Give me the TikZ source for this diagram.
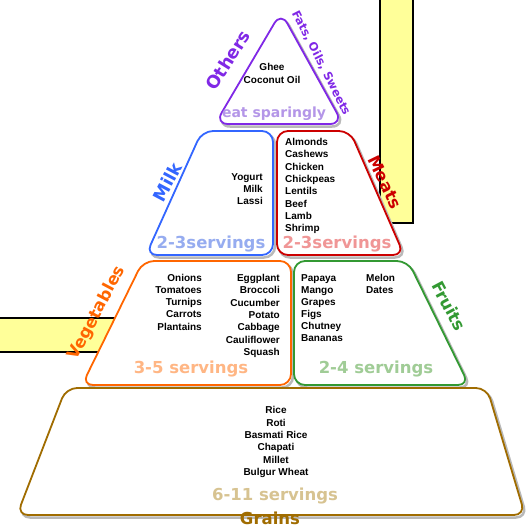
\documentclass[tikz,border=0pt]{standalone}
\usepackage{fontspec}
\newfontfamily\itemfont{Liberation Sans}
\newfontfamily\headfont{DejaVu Sans}
\definecolor{barc}{RGB}{255,255,153}
\definecolor{othersc}{RGB}{128,40,230}
\definecolor{othersl}{RGB}{180,150,232}
\definecolor{milkc}{RGB}{51,102,255}
\definecolor{milkl}{RGB}{150,172,240}
\definecolor{meatc}{RGB}{204,0,0}
\definecolor{meatl}{RGB}{240,150,150}
\definecolor{vegc}{RGB}{255,102,0}
\definecolor{vegl}{RGB}{255,182,132}
\definecolor{fruitc}{RGB}{51,153,51}
\definecolor{fruitl}{RGB}{160,204,150}
\definecolor{grainc}{RGB}{160,108,0}
\definecolor{grainl}{RGB}{215,195,145}

\begin{document}
\begin{tikzpicture}
    [x = 1pt, y = -1pt,
     box/.style = {line width = 1.8pt, rounded corners = 11pt, fill = white,
                   preaction = {draw = gray!55, line width = 2.5pt,
                                transform canvas = {shift = {(2pt,-2.5pt)}}}},
     bar/.style = {draw = black, line width = 1.8pt, fill = barc},
     item/.style = {font = \itemfont\bfseries\fontsize{10}{12}\selectfont, inner sep = 0pt},
     serv/.style = {font = \headfont\bfseries\fontsize{#1}{#1}\selectfont, inner sep = 0pt},
     serv/.default = 16.5,
     sidetext/.style = {font = \headfont\bfseries\fontsize{#1}{#1}\selectfont, inner sep = 0pt},
     sidetext/.default = 16.5]
    \useasboundingbox (0,0) rectangle (532,528);

    % yellow bars behind the pyramid
    \draw[bar] (380,-5) rectangle (413,223);
    \draw[bar] (-5,318) rectangle (125,352);

    % pyramid blocks
    \draw[box, draw = othersc, rounded corners = 13pt] (281,12) -- (343,124) -- (215,124) -- cycle;
    \draw[box, draw = milkc] (202,131) -- (273,131) -- (273,255) -- (146,255) -- cycle;
    \draw[box, draw = meatc] (277,131) -- (350,131) -- (404,255) -- (277,255) -- cycle;
    \draw[box, draw = vegc] (143,261) -- (291,261) -- (291,385) -- (82,385) -- cycle;
    \draw[box, draw = fruitc] (294,261) -- (408,261) -- (469,385) -- (294,385) -- cycle;
    \draw[box, draw = grainc] (66,388) -- (487,388) -- (525,515) -- (17,515) -- cycle;

    % foods
    \foreach \food [count = \i] in {Ghee,Coconut Oil}
      \node[item, anchor = base] (oth\i) at (272,{57.3+13*\i}) {\food};
    \foreach \food [count = \i] in {Yogurt,Milk,Lassi}
      \node[item, anchor = base east] (milk\i) at (263,{168.3+12*\i}) {\food};
    \foreach \food [count = \i] in {Almonds,Cashews,Chicken,Chickpeas,Lentils,Beef,Lamb,Shrimp}
      \node[item, anchor = base west] (meat\i) at (285,{132.95+12.35*\i}) {\food};
    \foreach \food [count = \i] in {Onions,Tomatoes,Turnips,Carrots,Plantains}
      \node[item, anchor = base east] (vega\i) at (202,{269.5+12.1*\i}) {\food};
    \foreach \food [count = \i] in {Eggplant,Broccoli,Cucumber,Potato,Cabbage,Cauliflower,Squash}
      \node[item, anchor = base east] (vegb\i) at (280,{269.3+12.33*\i}) {\food};
    \foreach \food [count = \i] in {Papaya,Mango,Grapes,Figs,Chutney,Bananas}
      \node[item, anchor = base west] (fruita\i) at (301,{269.2+12.1*\i}) {\food};
    \foreach \food [count = \i] in {Melon,Dates}
      \node[item, anchor = base west] (fruitb\i) at (366,{269.2+12.1*\i}) {\food};
    \foreach \food [count = \i] in {Rice,Roti,Basmati Rice,Chapati,Millet,Bulgur Wheat}
      \node[item, anchor = base] (grain\i) at (276,{401.1+12.46*\i}) {\food};

    % servings
    \node[serv = 14, anchor = base, text = othersl] (spar) at (274,117.3) {eat sparingly};
    \node[serv, anchor = base, text = milkl] (milks) at (211,248.3) {2-3servings};
    \node[serv, anchor = base, text = meatl] (meats) at (337,248.3) {2-3servings};
    \node[serv, anchor = base, text = vegl] (vegs) at (191,373) {3-5 servings};
    \node[serv, anchor = base, text = fruitl] (fruits) at (376,373) {2-4 servings};
    \node[serv, anchor = base, text = grainl] (grains) at (275,500) {6-11 servings};

    % group names
    \node[sidetext = 17.5, text = othersc, rotate = 58] (others) at (228,60) {Others};
    \node[sidetext = 11.5, text = othersc, rotate = -63] (fats) at (321,63) {Fats, Oils, Sweets};
    \node[sidetext = 17.5, text = milkc, rotate = 62] (milk) at (167,182) {Milk};
    \node[sidetext, text = meatc, rotate = -64] (meat) at (385,182) {Meats};
    \node[sidetext, text = vegc, rotate = 62] (veg) at (97,313) {Vegetables};
    \node[sidetext, text = fruitc, rotate = -62] (fruit) at (449,306) {Fruits};
    \node[sidetext, anchor = base, text = grainc] (grain) at (270,524.5) {Grains};
\end{tikzpicture}
\end{document}
